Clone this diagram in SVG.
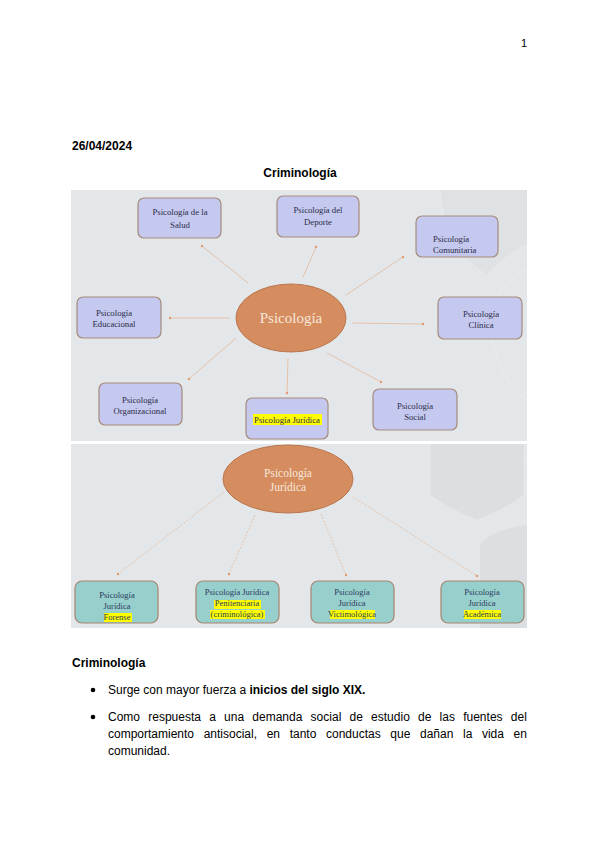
<svg xmlns="http://www.w3.org/2000/svg" width="599" height="848" viewBox="0 0 599 848">
<defs>
<style>
.pg{font-family:"Liberation Sans",Arial,sans-serif;fill:#000}
.b{font-weight:bold}
.bx{fill:#c5c9ef;stroke:#a58b7c;stroke-width:1.2}
.tb{fill:#97cfcd;stroke:#a58470;stroke-width:1.2}
.el{fill:#d58c5f;stroke:#b9774f;stroke-width:1}
.t{font-family:"Liberation Serif","Times New Roman",serif;font-size:8.7px;fill:#2b2b48;text-anchor:middle}
.ts{font-family:"Liberation Serif","Times New Roman",serif;font-size:8.7px;fill:#2b2b48;text-anchor:start}
.t2{font-family:"Liberation Serif","Times New Roman",serif;font-size:8.5px;fill:#2c3a5c;text-anchor:middle}
.ct{font-family:"Liberation Serif","Times New Roman",serif;fill:#f6e8da;text-anchor:middle}
.hl{fill:#ffff00}
.cn{stroke:#e3b898;stroke-width:0.8;fill:none}
.cd{stroke:#e3b898;stroke-width:0.8;fill:none;stroke-dasharray:2 1.5}
.dot{fill:#e39a6e}
</style>
</defs>
<rect width="599" height="848" fill="#ffffff"/>
<text class="pg" x="521" y="47" font-size="11">1</text>
<text class="pg b" x="72" y="150" font-size="12">26/04/2024</text>
<text class="pg b" x="300" y="177" font-size="12" text-anchor="middle">Criminología</text>

<g id="background">
<rect x="71" y="190" width="456" height="251" fill="#e4e7e9"/>
<path d="M440 190 Q445 250 487 275 Q505 255 527 245 L527 190 Z" fill="#dfe2e5"/>
<path d="M440 190 Q445 250 487 275 Q505 255 527 245" fill="none" stroke="#edeff1" stroke-width="0.8" stroke-dasharray="1.5 1.5"/>
<path d="M527 270 Q495 285 490 320 Q495 380 527 400" fill="none" stroke="#eceef0" stroke-width="0.8"/>
<rect x="71" y="444" width="456" height="184" fill="#e4e7e9"/>
<path d="M430 444 L430 495 Q450 510 477 520 Q505 510 524 495 L524 444 Z" fill="#dcdfe2"/>
<path d="M430 444 L430 495 Q450 510 477 520 Q505 510 524 495 L524 444" fill="none" stroke="#edeff1" stroke-width="0.8" stroke-dasharray="1.5 1.5"/>
<path d="M480 628 L480 545 Q490 530 527 525 L527 628 Z" fill="#dcdfe2"/>
</g>

<g id="connectors">
<line class="cn" x1="248" y1="283" x2="202" y2="246"/><circle class="dot" cx="202" cy="246" r="1.2"/>
<line class="cn" x1="303" y1="277" x2="316" y2="247"/><circle class="dot" cx="316" cy="247" r="1.2"/>
<line class="cn" x1="346" y1="295" x2="403" y2="257"/><circle class="dot" cx="403" cy="257" r="1.2"/>
<line class="cn" x1="230" y1="318" x2="170" y2="318"/><circle class="dot" cx="170" cy="318" r="1.2"/>
<line class="cn" x1="352" y1="323" x2="423" y2="324"/><circle class="dot" cx="423" cy="324" r="1.2"/>
<line class="cn" x1="236" y1="338" x2="189" y2="379"/><circle class="dot" cx="189" cy="379" r="1.2"/>
<line class="cn" x1="288" y1="358" x2="287" y2="393"/><circle class="dot" cx="287" cy="393" r="1.2"/>
<line class="cn" x1="327" y1="353" x2="381" y2="382"/><circle class="dot" cx="381" cy="382" r="1.2"/>
<line class="cd" x1="224" y1="492" x2="118" y2="574"/><circle class="dot" cx="118" cy="574" r="1.2"/>
<line class="cd" x1="255" y1="515" x2="229" y2="574"/><circle class="dot" cx="229" cy="574" r="1.2"/>
<line class="cd" x1="321" y1="514" x2="346" y2="575"/><circle class="dot" cx="346" cy="575" r="1.2"/>
<line class="cd" x1="353" y1="497" x2="477" y2="576"/><circle class="dot" cx="477" cy="576" r="1.2"/>
</g>

<g id="psicologia">
<ellipse class="el" cx="291" cy="318" rx="55" ry="34"/>
<text class="ct" x="291" y="323" font-size="15">Psicología</text>
</g>
<g id="salud">
<rect class="bx" x="138" y="198" width="83" height="40" rx="6"/>
<text class="t" x="180" y="215">Psicología de la</text>
<text class="t" x="180" y="228">Salud</text>
</g>
<g id="deporte">
<rect class="bx" x="277" y="196" width="82" height="41" rx="6"/>
<text class="t" x="318" y="213">Psicología del</text>
<text class="t" x="318" y="225">Deporte</text>
</g>
<g id="comunitaria">
<rect class="bx" x="416" y="216" width="82" height="41" rx="6"/>
<text class="ts" x="433" y="242">Psicología</text>
<text class="ts" x="433" y="253">Comunitaria</text>
</g>
<g id="educacional">
<rect class="bx" x="77" y="297" width="84" height="41" rx="6"/>
<text class="t" x="114" y="316">Psicología</text>
<text class="t" x="114" y="327">Educacional</text>
</g>
<g id="clinica">
<rect class="bx" x="438" y="297" width="84" height="42" rx="6"/>
<text class="t" x="481" y="317">Psicología</text>
<text class="t" x="481" y="328">Clínica</text>
</g>
<g id="organizacional">
<rect class="bx" x="99" y="383" width="83" height="42" rx="6"/>
<text class="t" x="140" y="403">Psicología</text>
<text class="t" x="140" y="414">Organizacional</text>
</g>
<g id="juridica">
<rect class="bx" x="246" y="398" width="82" height="41" rx="6"/>
<rect class="hl" x="253" y="414" width="69" height="11"/>
<text class="t" x="287" y="423">Psicología Jurídica</text>
</g>
<g id="social">
<rect class="bx" x="373" y="389" width="84" height="41" rx="6"/>
<text class="t" x="415" y="409">Psicología</text>
<text class="t" x="415" y="420">Social</text>
</g>

<g id="psicologia-juridica">
<ellipse class="el" cx="288" cy="479" rx="65" ry="34"/>
<text class="ct" x="288" y="477" font-size="11.5">Psicología</text>
<text class="ct" x="288" y="491" font-size="11.5">Jurídica</text>
</g>
<g id="forense">
<rect class="tb" x="75" y="581" width="83" height="42" rx="7"/>
<rect class="hl" x="104" y="613" width="28" height="9"/>
<text class="t2" x="117" y="598">Psicología</text>
<text class="t2" x="117" y="609">Jurídica</text>
<text class="t2" x="117" y="620">Forense</text>
</g>
<g id="penitenciaria">
<rect class="tb" x="196" y="581" width="83" height="42" rx="7"/>
<rect class="hl" x="214" y="600" width="47" height="9"/>
<rect class="hl" x="210" y="610" width="55" height="9"/>
<text class="t2" x="237" y="595">Psicología Jurídica</text>
<text class="t2" x="237" y="606">Penitenciaria</text>
<text class="t2" x="237" y="617">(criminológica)</text>
</g>
<g id="victimologica">
<rect class="tb" x="311" y="581" width="83" height="42" rx="7"/>
<rect class="hl" x="330" y="610" width="45" height="9"/>
<text class="t2" x="352" y="595">Psicología</text>
<text class="t2" x="352" y="606">Jurídica</text>
<text class="t2" x="352" y="617">Victimológica</text>
</g>
<g id="academica">
<rect class="tb" x="441" y="581" width="83" height="42" rx="7"/>
<rect class="hl" x="464" y="610" width="37" height="9"/>
<text class="t2" x="482" y="595">Psicología</text>
<text class="t2" x="482" y="606">Jurídica</text>
<text class="t2" x="482" y="617">Académica</text>
</g>

<text class="pg b" x="72" y="667" font-size="12">Criminología</text>
<circle cx="93" cy="690" r="2.3" fill="#000"/>
<text class="pg" x="108" y="694" font-size="12">Surge con mayor fuerza a <tspan class="b">inicios del siglo XIX.</tspan></text>
<circle cx="93" cy="717" r="2.3" fill="#000"/>
<text class="pg" x="108" y="721" font-size="12" word-spacing="4.9">Como respuesta a una demanda social de estudio de las fuentes del</text>
<text class="pg" x="108" y="738" font-size="12" word-spacing="6.3">comportamiento antisocial, en tanto conductas que dañan la vida en</text>
<text class="pg" x="108" y="755" font-size="12">comunidad.</text>
</svg>
